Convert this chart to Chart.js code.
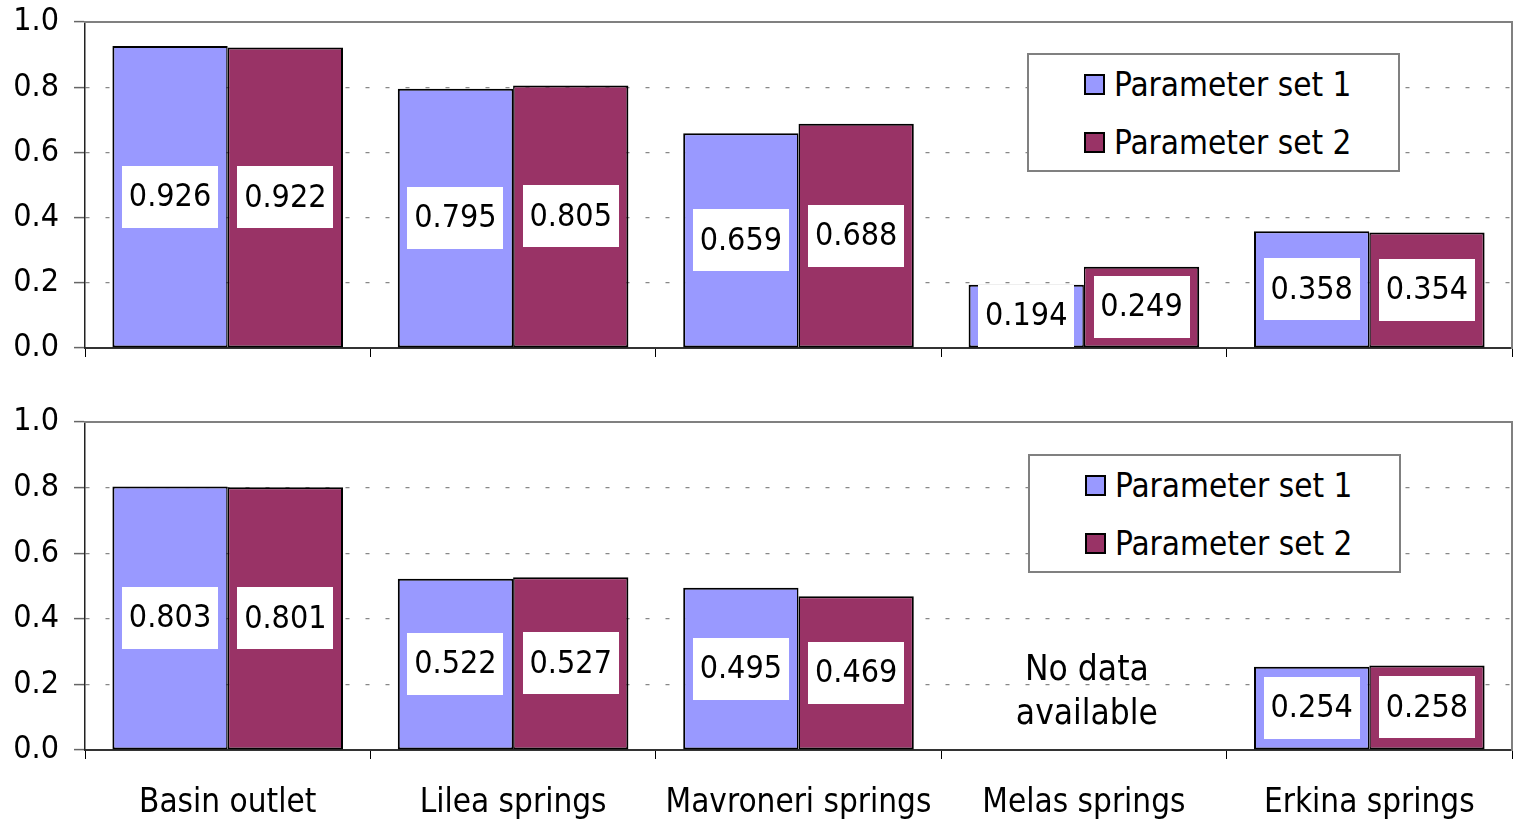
<!DOCTYPE html>
<html>
<head>
<meta charset="utf-8">
<script src="https://cdn.jsdelivr.net/npm/chart.js@4/dist/chart.umd.min.js"></script>
<style>
  html, body { margin: 0; padding: 0; background: #fff; }
  body { width: 1514px; height: 819px; position: relative; overflow: hidden;
         font-family: 'DejaVu Sans Condensed', 'DejaVu Sans', sans-serif; }
  canvas { position: absolute; left: 0; }
  #cTop { top: 0; }
  #cBottom { top: 380px; }
  .legend { position: absolute; background: #fff; border: 2px solid #808080; box-sizing: border-box;
            width: 373px; height: 119px; }
  .legend .row { position: absolute; left: 55px; height: 40px; display: flex; align-items: center;
                 font-size: 33px; color: #000; white-space: nowrap; }
  .legend .sw { width: 17px; height: 17px; border: 2px solid #000; margin-right: 9px; }
</style>
</head>
<body>
<canvas id="cTop" width="1514" height="370"></canvas>
<canvas id="cBottom" width="1514" height="439"></canvas>
<div class="legend" id="legTop" style="left:1027px; top:53px;"></div>
<div class="legend" id="legBottom" style="left:1028px; top:454px;"></div>
<script>
// Sites and efficiency values for the two parameter sets
const categories = ['Basin outlet', 'Lilea springs', 'Mavroneri springs', 'Melas springs', 'Erkina springs'];
const seriesNames = ['Parameter set 1', 'Parameter set 2'];
const seriesColors = ['#9999FF', '#993366'];

// upper panel
const upperSet1 = [0.926, 0.795, 0.659, 0.194, 0.358];
const upperSet2 = [0.922, 0.805, 0.688, 0.249, 0.354];
// lower panel (no observations for Melas springs)
const lowerSet1 = [0.803, 0.522, 0.495, null, 0.254];
const lowerSet2 = [0.801, 0.527, 0.469, null, 0.258];

const yMin = 0, yMax = 1, yStep = 0.2;
const noDataText = ['No data', 'available'];
const noDataIndex = 3;

const FONT = "'DejaVu Sans Condensed', 'DejaVu Sans', sans-serif";

// white boxes with the value, centred on each bar
const valueBoxes = {
  id: 'valueBoxes',
  afterDatasetsDraw(chart) {
    const ctx = chart.ctx;
    ctx.save();
    ctx.font = '32px ' + FONT;
    ctx.textAlign = 'center';
    ctx.textBaseline = 'middle';
    chart.data.datasets.forEach((ds, di) => {
      chart.getDatasetMeta(di).data.forEach((bar, i) => {
        const v = ds.data[i];
        if (v == null) return;
        const txt = v.toFixed(3);
        const w = Math.round(ctx.measureText(txt).width + 14);
        const h = 62;
        const cx = bar.x, cy = (bar.y + bar.base) / 2;
        ctx.fillStyle = '#fff';
        ctx.fillRect(Math.round(cx - w / 2), Math.round(cy - h / 2), w, h);
        ctx.fillStyle = '#000';
        ctx.fillText(txt, cx, cy + 1);
      });
    });
    ctx.restore();
  }
};

// note for the site without data in the lower panel
const noDataNote = {
  id: 'noDataNote',
  afterDatasetsDraw(chart, args, opts) {
    if (!opts.show) return;
    const ctx = chart.ctx;
    const x = chart.scales.x.getPixelForValue(noDataIndex);
    const yc = chart.scales.y.getPixelForValue(0.18);
    ctx.save();
    ctx.font = '35px ' + FONT;
    ctx.textAlign = 'center';
    ctx.textBaseline = 'middle';
    ctx.fillStyle = '#000';
    ctx.fillText(noDataText[0], x + 3, yc - 20);
    ctx.fillText(noDataText[1], x + 3, yc + 24);
    ctx.restore();
  }
};

function makeDatasets(a, b) {
  return [
    { label: seriesNames[0], data: a, backgroundColor: seriesColors[0], borderColor: '#000',
      borderWidth: { top: 2, left: 2, right: 1.5, bottom: 2 }, borderSkipped: false,
      categoryPercentage: 0.808, barPercentage: 1.0 },
    { label: seriesNames[1], data: b, backgroundColor: seriesColors[1], borderColor: '#000',
      borderWidth: { top: 2, left: 1.5, right: 2, bottom: 2 }, borderSkipped: false,
      categoryPercentage: 0.808, barPercentage: 1.0 }
  ];
}

function makeOptions(padTop, xHeight, showLabels, showNote) {
  return {
    responsive: false,
    animation: false,
    devicePixelRatio: 1,
    layout: { padding: { top: padTop, right: 2, left: 0, bottom: 0 } },
    plugins: {
      legend: { display: false },
      tooltip: { enabled: false },
      noDataNote: { show: showNote }
    },
    scales: {
      x: {
        position: 'bottom',
        grid: { offset: true, drawOnChartArea: false, drawTicks: true, tickLength: 9,
                tickColor: '#000', tickWidth: 1, color: '#000' },
        border: { display: true, color: '#333', width: 2 },
        ticks: { display: showLabels, color: '#000', font: { family: FONT, size: 33 }, padding: 25,
                 maxRotation: 0, autoSkip: false },
        afterFit(s) { s.height = xHeight; s.paddingLeft = 0; s.paddingRight = 0; }
      },
      y: {
        min: yMin, max: yMax,
        ticks: { stepSize: yStep, color: '#000', font: { family: FONT, size: 32 }, padding: 15,
                 callback: v => Number(v).toFixed(1) },
        grid: {
          color: c => (c.tick && (Math.abs(c.tick.value) < 1e-6 || Math.abs(c.tick.value - 1) < 1e-6)) ? 'rgba(0,0,0,0)' : '#888',
          lineWidth: 1.2, tickLength: 11, tickColor: '#666', tickWidth: 1.5
        },
        border: { display: true, color: '#222', width: 1.5, dash: [4, 16] },
        afterFit(s) { s.width = 85; s.paddingTop = 0; s.paddingBottom = 0; }
      },
      xTop: {
        position: 'top', display: true,
        grid: { display: false, drawTicks: false },
        ticks: { display: false },
        border: { display: true, color: '#808080', width: 2 },
        afterFit(s) { s.height = 0; }
      },
      yRight: {
        position: 'right', display: true,
        grid: { display: false, drawTicks: false },
        ticks: { display: false },
        border: { display: true, color: '#808080', width: 2 },
        afterFit(s) { s.width = 0; }
      }
    }
  };
}

new Chart(document.getElementById('cTop'), {
  type: 'bar',
  data: { labels: categories, datasets: makeDatasets(upperSet1, upperSet2) },
  options: makeOptions(22, 22, false, false),
  plugins: [valueBoxes, noDataNote]
});

new Chart(document.getElementById('cBottom'), {
  type: 'bar',
  data: { labels: categories, datasets: makeDatasets(lowerSet1, lowerSet2) },
  options: makeOptions(42, 69, true, true),
  plugins: [valueBoxes, noDataNote]
});

// legend boxes from the series names and colours
function buildLegend(el) {
  seriesNames.forEach((name, i) => {
    const row = document.createElement('div');
    row.className = 'row';
    row.style.top = (9 + i * 58) + 'px';
    const sw = document.createElement('span');
    sw.className = 'sw';
    sw.style.background = seriesColors[i];
    const tx = document.createElement('span');
    tx.textContent = name;
    row.appendChild(sw);
    row.appendChild(tx);
    el.appendChild(row);
  });
}
buildLegend(document.getElementById('legTop'));
buildLegend(document.getElementById('legBottom'));
</script>
</body>
</html>
